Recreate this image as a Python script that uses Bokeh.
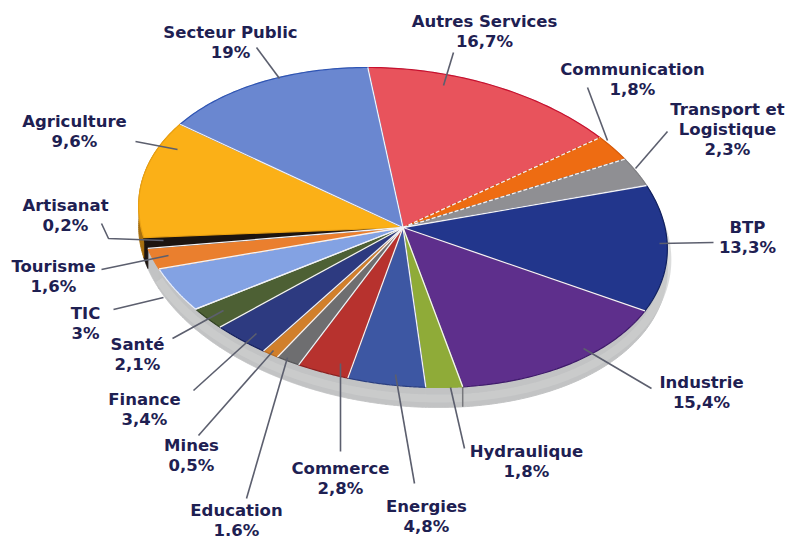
import numpy as np
from bokeh.plotting import figure
from bokeh.models import Range1d
from bokeh.core.properties import value
from bokeh.embed import file_html
from bokeh.resources import INLINE

# ---- data -------------------------------------------------------------
names = ["Autres Services", "Communication", "Transport et\nLogistique", "BTP", "Industrie",
         "Hydraulique", "Energies", "Commerce", "Education", "Mines", "Finance", "Santé",
         "TIC", "Tourisme", "Artisanat", "Agriculture", "Secteur Public"]
printed = ["16,7%", "1,8%", "2,3%", "13,3%", "15,4%", "1,8%", "4,8%", "2,8%", "1.6%", "0,5%",
           "3,4%", "2,1%", "3%", "1,6%", "0,2%", "9,6%", "19%"]
# slice sizes as they are actually drawn in the picture (%)
drawn_share = [15.5, 2.47, 2.8, 12.94, 14.78, 2.25, 4.72, 3.11, 1.42, 0.97, 3.33, 2.17,
               4.36, 2.08, 1.08, 12.17, 13.83]

# ---- styles -----------------------------------------------------------
face = ["#e8535c", "#ee6c12", "#8f8f93", "#22368c", "#5e2f8c", "#8fab38", "#3d57a3", "#b7322e",
        "#6e6e70", "#d17f2b", "#2d3a80", "#4d6034", "#83a2e3", "#ea7f2e", "#1c1410", "#fbb017", "#6a87d0"]
edge = ["#c8102e", "#d85a08", "#808084", "#10205f", "#3e1a6a", "#8fab38", "#2b3f80", "#8a2020",
        "#555557", "#b86a20", "#141f5c", "#2f3f20", "#e8eefc", "#ea7f2e", "#1c1410", "#eaa010", "#2f55b5"]
side = ["#c2c3c4"] * 17
side[14] = "#1c1410"
side[15] = "#a8700f"
spoke_dash = ["solid", "4 2", "4 2", "solid", "solid", "solid", "solid", "solid", "solid", "solid",
              "solid", "solid", "solid", "solid", "solid", None, "solid"]

CX, CY, RX, RY, SHEAR, DEPTH = 402.5, 227.0, 262.0, 160.0, 0.22, 20.0
INK = "#1e2052"
LEAD = "#5c5f6e"

# label anchor (centre of first line) and leader polyline, in page pixels
label_xy = [(484, 21), (632, 69), (727, 109), (747, 227), (701, 382), (526, 451), (426, 506),
            (340, 468), (236, 510), (191, 445), (144, 399), (137, 344), (85, 313), (53, 266),
            (65, 205), (74, 121), (230, 32)]
leaders = [[(453, 52), (443, 85)], [(587, 87), (607, 140)], [(667, 131), (635, 168)],
           [(713, 242), (659, 243)], [(651, 388), (583, 348)], [(464, 448), (450, 387)],
           [(414, 483), (395, 374)], [(340, 451), (340, 363)], [(246, 498), (287, 357)],
           [(198, 435), (273, 350)], [(193, 390), (256, 333)], [(172, 338), (223, 310)],
           [(113, 309), (163, 297)], [(101, 269), (168, 255)],
           [(101, 223), (108, 238), (163, 240)], [(135, 141), (177, 149)], [(256, 47), (279, 78)]]

# ---- geometry ---------------------------------------------------------
share = np.array(drawn_share, dtype=float)
edges = np.concatenate([[0.0], np.cumsum(share / share.sum() * 2 * np.pi)])


def rim(t, drop=0.0):
    dy = -RY * np.cos(t)
    dx = RX * np.sin(t) + SHEAR * dy
    return CX + dx, CY + dy + drop


p = figure(width=786, height=541, output_backend="svg", toolbar_location=None,
           x_range=Range1d(0, 786), y_range=Range1d(541, 0),
           x_axis_type=None, y_axis_type=None, min_border=0, outline_line_color=None)
p.grid.visible = False
p.background_fill_color = "white"

# side wall
xs, ys = [], []
for i in range(len(share)):
    t = np.linspace(edges[i], edges[i + 1], 60)
    x1, y1 = rim(t)
    x2, y2 = rim(t[::-1], DEPTH)
    xs.append(np.r_[x1, x2])
    ys.append(np.r_[y1, y2])
p.patches(xs, ys, fill_color=side, line_color=side, line_width=1)
# lighter band along the wall
t = np.linspace(edges[3], edges[13], 200)
x1, y1 = rim(t, DEPTH * 0.55)
p.line(x1, y1, line_color="#cdcecf", line_width=8, line_alpha=0.7)

# dark seam on the wall under Industrie / Hydraulique
x1, y1 = rim(edges[5])
x2, y2 = rim(edges[5], DEPTH)
p.line([x1, x2], [y1, y2], line_color="#77787c", line_width=1.5)

# top faces
xs, ys = [], []
for i in range(len(share)):
    t = np.linspace(edges[i], edges[i + 1], 60)
    x1, y1 = rim(t)
    xs.append(np.r_[CX, x1])
    ys.append(np.r_[CY, y1])
p.patches(xs, ys, fill_color=face, line_color=edge, line_width=1.2)

# white spokes
for i, dash in enumerate(spoke_dash):
    if dash is None:
        continue
    x1, y1 = rim(edges[i])
    p.line([CX, x1], [CY, y1], line_color="#f3f3f6", line_width=1.3, line_dash=dash)

# leaders
p.multi_line([[a for a, _ in l] for l in leaders], [[b for _, b in l] for l in leaders],
             line_color=LEAD, line_width=1.6)

# labels
tx, ty, tt = [], [], []
for (x, y), name, pct in zip(label_xy, names, printed):
    for k, line in enumerate(name.split("\n") + [pct]):
        tx.append(x)
        ty.append(y + k * 19.8)
        tt.append(line)
p.text(tx, ty, tt, text_font=value("DejaVu Sans"), text_font_style="bold", text_font_size="16.5px",
       text_color=INK, text_align="center", text_baseline="middle")

open("out.html", "w").write(file_html(p, INLINE))
